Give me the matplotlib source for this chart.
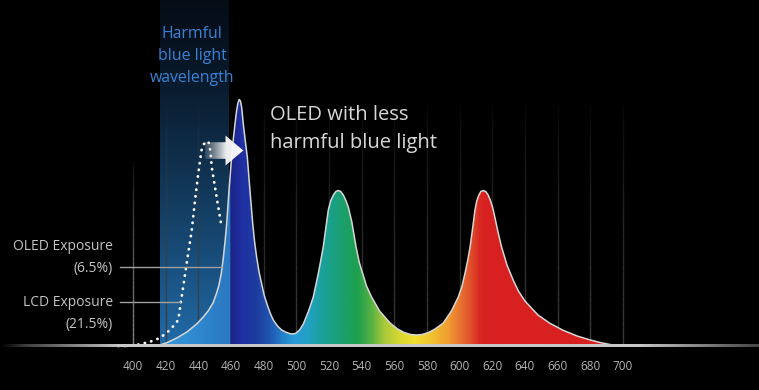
import numpy as np
import matplotlib
matplotlib.use("Agg")
import matplotlib.pyplot as plt
from matplotlib.colors import LinearSegmentedColormap, to_rgb
from matplotlib.patches import PathPatch
from matplotlib.path import Path
from matplotlib.collections import LineCollection

# ---------------- data ----------------
oled_nm = [412, 416.5, 421, 426.8, 433, 439, 443, 446, 449, 451, 452.5, 454, 455.3,
           456.4, 457.4, 458.8, 460.4, 461.5, 462.5, 463.5, 464.3, 465, 465.8, 466.6,
           467.5, 468.7, 470, 471.6, 473.3, 474.4, 475.7, 477.2, 478.8, 480.3, 481.9,
           484, 485.9, 488.5, 491, 494, 497, 499.5, 502, 504.3, 507.5, 510.4, 513.5,
           516.5, 519.6, 521, 522.7, 524.2, 525.7, 527.2, 528.8, 530.5, 532, 534,
           536.6, 538.5, 540.6, 543, 546.1, 551, 557.4, 562, 566, 570, 573.7, 577,
           581, 585, 590, 595, 599.2, 601.5, 603.3, 605, 606.4, 608, 609.4, 610.5,
           611.8, 613, 614.5, 616, 617.5, 619, 620.3, 621.7, 623.5, 625.7, 629,
           632.8, 636, 640, 644, 648, 655, 663, 672, 680, 686, 692, 698]
oled_val = [0, 1, 3.5, 8, 14, 22, 29, 35, 43, 52, 60, 72, 88,
            105, 122.7, 156, 189, 208, 222.7, 236, 243, 246.5, 245, 238,
            222.7, 206, 189, 156, 122.7, 105, 89, 74, 62, 51, 42.7,
            33, 26, 20, 16, 13.5, 12, 12.5, 16, 22, 35, 49, 72.7,
            99, 136, 145, 151, 154.5, 155.5, 154.5, 151, 145, 138, 124,
            99, 84, 72.7, 60, 49, 35, 23, 17, 13.5, 11.5, 11, 11.5,
            13.5, 17, 23, 35, 49, 60, 72.7, 86, 99, 118, 136, 145,
            151, 154.5, 155.5, 154.5, 151, 145, 138, 128, 114, 99, 81,
            66, 55, 45, 38, 31, 23, 16, 10, 6, 3.5, 1.5, 0]

lcd_nm = [391, 396, 402, 410, 416.5, 422.7, 427.7, 429.8, 432.9, 436, 438, 440, 442,
          443.5, 445, 446.5, 447.4, 448.2, 450.2, 452.2, 454.3]
lcd_val = [0, 0, 1, 4, 8, 16, 26, 49, 83, 116, 146, 173, 196,
           202, 205, 203, 195, 179, 159, 139, 119]

tick_nm = list(range(400, 701, 20))
harmful_band = (416.5, 458.5)
oled_label = ["OLED Exposure", "(6.5%)"]
lcd_label = ["LCD Exposure", "(21.5%)"]

# colour stops of the spectrum fill (wavelength, colour)
spectrum_stops = [(412, "#3598d8"), (430, "#3190d4"), (458.4, "#2a78c0"),
                  (458.6, "#1a2382"), (466, "#2030a4"), (475, "#1e3c9e"),
                  (483, "#1f56b2"), (491, "#2480c8"), (498, "#2a9ad8"),
                  (507, "#22a2c4"), (516, "#1aa098"), (526, "#1aa074"),
                  (537, "#1ea04e"), (545, "#52b044"), (553, "#a6c83a"),
                  (563, "#d8d832"), (572, "#f0e030"), (583, "#f0c032"),
                  (592, "#f0a030"), (600, "#e87432"), (607, "#e04c2a"),
                  (612, "#d82a22"), (616, "#d82020"), (700, "#d82020")]

# ---------------- geometry helpers ----------------
PX_PER_NM = 1.633
X0_PX, BASE_PX = 133.0, 346.0
W_PX, H_PX = 759, 390


def px2nm(x):
    return 400 + (x - X0_PX) / PX_PER_NM


def py2h(y):
    return BASE_PX - y


plt.rcParams['font.family'] = ['Open Sans', 'DejaVu Sans']

fig = plt.figure(figsize=(W_PX / 100, H_PX / 100), dpi=100, facecolor='black')
ax = fig.add_axes([0, 0, 1, 1])
ax.set_facecolor('black')
xmin, xmax = px2nm(0), px2nm(W_PX)
ymin, ymax = py2h(H_PX), py2h(0)
ax.set_xlim(xmin, xmax)
ax.set_ylim(ymin, ymax)
ax.axis('off')

# ---------------- harmful band (vertical gradient) ----------------
top_c = np.array([0.02, 0.05, 0.09])
bot_c = np.array([0.13, 0.42, 0.66])
t = np.linspace(0, 1, 256)[:, None] ** 1.3
band_img = (top_c + (bot_c - top_c) * t)[:, None, :].repeat(2, axis=1)
ax.imshow(band_img, extent=[harmful_band[0], harmful_band[1], 0, ymax],
          origin='upper', aspect='auto', zorder=1, interpolation='bilinear')

# ---------------- faint vertical grid ----------------
for nm in tick_nm:
    top = 185 if nm == 400 else 245
    hs = np.linspace(0, top, 40)
    segs = [[(nm, hs[i]), (nm, hs[i + 1])] for i in range(len(hs) - 1)]
    base_col = to_rgb("#8a8a8a") if nm == 400 else to_rgb("#3c3c3c")
    alphas = np.clip(1 - hs[:-1] / top, 0, 1) ** 0.7
    cols = [(*base_col, a) for a in alphas]
    ax.add_collection(LineCollection(segs, colors=cols, linewidths=1.0, zorder=1.5))

# ---------------- LCD dotted curve ----------------
ax.plot(lcd_nm, lcd_val, color='white', lw=2.0, linestyle=(0, (0.1, 2.3)),
        dash_capstyle='round', zorder=2.5)

# ---------------- OLED spectrum fill ----------------
lo, hi = spectrum_stops[0][0], spectrum_stops[-1][0]
cmap = LinearSegmentedColormap.from_list(
    "spec", [((s - lo) / (hi - lo), c) for s, c in spectrum_stops])
grad = cmap(np.linspace(0, 1, 1200))[None, :, :]
verts = [(oled_nm[0], 0)] + list(zip(oled_nm, oled_val)) + [(oled_nm[-1], 0)]
clip = PathPatch(Path(verts), facecolor='none', edgecolor='none', transform=ax.transData)
ax.add_patch(clip)
im = ax.imshow(grad, extent=[lo, hi, 0, max(oled_val) + 5], origin='lower',
               aspect='auto', zorder=3, interpolation='bilinear')
im.set_clip_path(clip)
ax.plot(oled_nm, oled_val, color='#d6d6d6', lw=1.1, zorder=4,
        solid_joinstyle='round', solid_capstyle='round')

# ---------------- baseline (faded at the ends) ----------------
xs = np.linspace(xmin, xmax, 600)
alpha = np.clip(np.interp(xs, [xmin, px2nm(30), px2nm(120), px2nm(640), xmax],
                          [0.0, 0.35, 1.0, 1.0, 0.35]), 0, 1)
base_img = np.zeros((1, len(xs), 4))
base_img[..., :3] = to_rgb("#c8c8c8")
base_img[..., 3] = alpha
ax.imshow(base_img, extent=[xmin, xmax, -1.3, 1.3], aspect='auto', zorder=5,
          interpolation='bilinear')

# ---------------- arrow (gradient) ----------------
peak_h = py2h(150.5)
ax_l, ax_m, ax_r = px2nm(205), px2nm(225.5), px2nm(243.3)
body, head = 8.3, 15.0
arrow = [(ax_l, peak_h + body), (ax_m, peak_h + body), (ax_m, peak_h + head),
         (ax_r, peak_h), (ax_m, peak_h - head), (ax_m, peak_h - body),
         (ax_l, peak_h - body), (ax_l, peak_h + body)]
arrow_patch = PathPatch(Path(arrow), facecolor='none', edgecolor='none',
                        transform=ax.transData)
ax.add_patch(arrow_patch)
ax_x = np.linspace(ax_l, ax_r, 200)
arr_img = np.ones((1, 200, 4))
arr_img[..., 3] = np.interp(ax_x, [ax_l, ax_m, ax_r], [0.2, 0.95, 1.0])
arr_img[..., :3] = np.interp(ax_x, [ax_l, ax_m, ax_r], [0.75, 0.97, 1.0])[:, None]
aim = ax.imshow(arr_img, extent=[ax_l, ax_r, peak_h - 16, peak_h + 16],
                aspect='auto', zorder=6, interpolation='bilinear')
aim.set_clip_path(arrow_patch)

# ---------------- texts ----------------
for nm in tick_nm:
    ax.text(nm, py2h(366), str(nm), ha='center', va='center', color='#b4b4b4',
            fontsize=8.5, zorder=7)

for i, line in enumerate(["Harmful", "blue light", "wavelength"]):
    ax.text(px2nm(192), py2h(34 + 21.8 * i), line, ha='center', va='center',
            color='#3a82d6', fontsize=11.4, zorder=7)

ax.text(px2nm(270), py2h(115), "OLED with less", ha='left', va='center',
        color='#d8d8d8', fontsize=14.5, zorder=7)
ax.text(px2nm(270), py2h(143), "harmful blue light", ha='left', va='center',
        color='#d8d8d8', fontsize=14.5, zorder=7)

for lines, y0 in [(oled_label, 246.7), (lcd_label, 302.7)]:
    ax.text(px2nm(113), py2h(y0), lines[0], ha='right', va='center',
            color='#c4c4c4', fontsize=10, zorder=7)
    ax.text(px2nm(113), py2h(y0 + 21.7), lines[1], ha='right', va='center',
            color='#c4c4c4', fontsize=10, zorder=7)

# pointer lines ending on the curves
oled_ptr_h = py2h(267.3)
left_half = slice(0, int(np.argmax(oled_val)) + 1)
oled_end = np.interp(oled_ptr_h, oled_val[left_half], oled_nm[left_half])
ax.plot([px2nm(120), oled_end], [oled_ptr_h, oled_ptr_h], color='#a0a0a0', lw=1.0, zorder=4.5)
lcd_ptr_h = py2h(302.3)
lcd_left = slice(0, int(np.argmax(lcd_val)) + 1)
lcd_end = np.interp(lcd_ptr_h, lcd_val[lcd_left], lcd_nm[lcd_left])
ax.plot([px2nm(120), lcd_end - 0.6], [lcd_ptr_h, lcd_ptr_h], color='#a0a0a0', lw=1.0, zorder=4.5)

fig.savefig("out.png", dpi=100, facecolor='black')
